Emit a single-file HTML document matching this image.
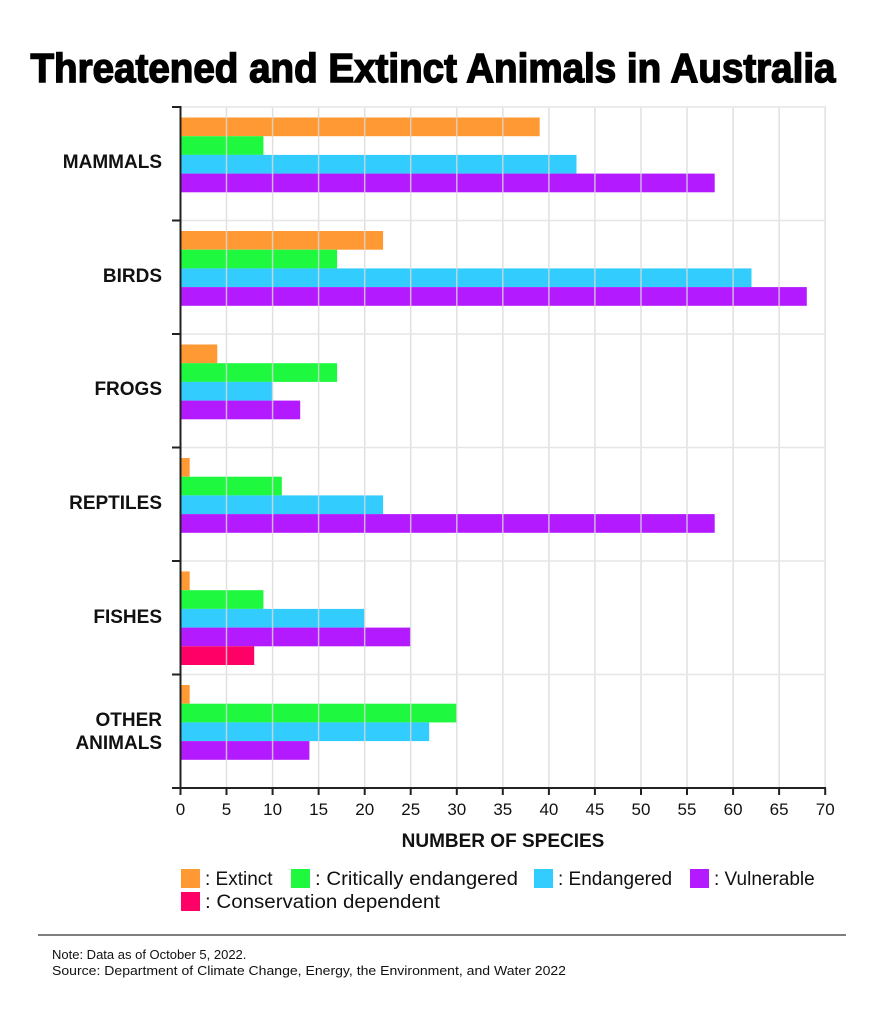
<!DOCTYPE html>
<html><head><meta charset="utf-8"><style>
html,body{margin:0;padding:0;background:#fff;}
svg{display:block;font-family:"Liberation Sans",sans-serif;}
</style></head><body>
<svg width="883" height="1024" viewBox="0 0 883 1024" xmlns="http://www.w3.org/2000/svg">
<text x="433" y="82" text-anchor="middle" font-size="41" font-weight="bold" textLength="805" lengthAdjust="spacingAndGlyphs" fill="#000" stroke="#000" stroke-width="1.5">Threatened and Extinct Animals in Australia</text>
<g id="bars">
<rect x="180.5" y="117.5" width="359.2" height="18.7" fill="#FF9933"/>
<rect x="180.5" y="136.2" width="82.9" height="18.7" fill="#1EF83E"/>
<rect x="180.5" y="154.9" width="396" height="18.7" fill="#33CCFF"/>
<rect x="180.5" y="173.6" width="534.2" height="18.7" fill="#B31AFF"/>
<rect x="180.5" y="231" width="202.6" height="18.7" fill="#FF9933"/>
<rect x="180.5" y="249.7" width="156.6" height="18.7" fill="#1EF83E"/>
<rect x="180.5" y="268.4" width="571" height="18.7" fill="#33CCFF"/>
<rect x="180.5" y="287.1" width="626.3" height="18.7" fill="#B31AFF"/>
<rect x="180.5" y="344.5" width="36.8" height="18.7" fill="#FF9933"/>
<rect x="180.5" y="363.2" width="156.6" height="18.7" fill="#1EF83E"/>
<rect x="180.5" y="381.9" width="92.1" height="18.7" fill="#33CCFF"/>
<rect x="180.5" y="400.6" width="119.7" height="18.7" fill="#B31AFF"/>
<rect x="180.5" y="458" width="9.2" height="18.7" fill="#FF9933"/>
<rect x="180.5" y="476.7" width="101.3" height="18.7" fill="#1EF83E"/>
<rect x="180.5" y="495.4" width="202.6" height="18.7" fill="#33CCFF"/>
<rect x="180.5" y="514.1" width="534.2" height="18.7" fill="#B31AFF"/>
<rect x="180.5" y="571.5" width="9.2" height="18.7" fill="#FF9933"/>
<rect x="180.5" y="590.2" width="82.9" height="18.7" fill="#1EF83E"/>
<rect x="180.5" y="608.9" width="184.2" height="18.7" fill="#33CCFF"/>
<rect x="180.5" y="627.6" width="230.3" height="18.7" fill="#B31AFF"/>
<rect x="180.5" y="646.3" width="73.7" height="18.7" fill="#FF0066"/>
<rect x="180.5" y="685" width="9.2" height="18.7" fill="#FF9933"/>
<rect x="180.5" y="703.7" width="276.3" height="18.7" fill="#1EF83E"/>
<rect x="180.5" y="722.4" width="248.7" height="18.7" fill="#33CCFF"/>
<rect x="180.5" y="741.1" width="128.9" height="18.7" fill="#B31AFF"/>
</g>
<g stroke="#d9d9d9" stroke-width="1.5" opacity="0.8">
<line x1="226.5" y1="107" x2="226.5" y2="788"/><line x1="272.6" y1="107" x2="272.6" y2="788"/>
<line x1="318.6" y1="107" x2="318.6" y2="788"/><line x1="364.7" y1="107" x2="364.7" y2="788"/>
<line x1="410.7" y1="107" x2="410.7" y2="788"/><line x1="456.8" y1="107" x2="456.8" y2="788"/>
<line x1="502.8" y1="107" x2="502.8" y2="788"/><line x1="548.9" y1="107" x2="548.9" y2="788"/>
<line x1="594.9" y1="107" x2="594.9" y2="788"/><line x1="641" y1="107" x2="641" y2="788"/>
<line x1="687" y1="107" x2="687" y2="788"/><line x1="733.1" y1="107" x2="733.1" y2="788"/>
<line x1="779.1" y1="107" x2="779.1" y2="788"/><line x1="825.2" y1="107" x2="825.2" y2="788"/>
</g>
<g stroke="#e6e6e6" stroke-width="1.5">
<line x1="181" y1="107" x2="826" y2="107"/><line x1="181" y1="220.5" x2="826" y2="220.5"/>
<line x1="181" y1="334" x2="826" y2="334"/><line x1="181" y1="447.5" x2="826" y2="447.5"/>
<line x1="181" y1="561" x2="826" y2="561"/><line x1="181" y1="674.5" x2="826" y2="674.5"/>
</g>
<g stroke="#222" stroke-width="2">
<line x1="180.5" y1="106" x2="180.5" y2="789"/>
<line x1="172" y1="788" x2="826" y2="788"/>
<line x1="172" y1="107" x2="180" y2="107"/><line x1="172" y1="220.5" x2="180" y2="220.5"/>
<line x1="172" y1="334" x2="180" y2="334"/><line x1="172" y1="447.5" x2="180" y2="447.5"/>
<line x1="172" y1="561" x2="180" y2="561"/><line x1="172" y1="674.5" x2="180" y2="674.5"/>
<line x1="180.5" y1="788" x2="180.5" y2="795"/><line x1="226.5" y1="788" x2="226.5" y2="795"/>
<line x1="272.6" y1="788" x2="272.6" y2="795"/><line x1="318.6" y1="788" x2="318.6" y2="795"/>
<line x1="364.7" y1="788" x2="364.7" y2="795"/><line x1="410.7" y1="788" x2="410.7" y2="795"/>
<line x1="456.8" y1="788" x2="456.8" y2="795"/><line x1="502.8" y1="788" x2="502.8" y2="795"/>
<line x1="548.9" y1="788" x2="548.9" y2="795"/><line x1="594.9" y1="788" x2="594.9" y2="795"/>
<line x1="641" y1="788" x2="641" y2="795"/><line x1="687" y1="788" x2="687" y2="795"/>
<line x1="733.1" y1="788" x2="733.1" y2="795"/><line x1="779.1" y1="788" x2="779.1" y2="795"/>
<line x1="825.2" y1="788" x2="825.2" y2="795"/>
</g>
<g font-size="17" fill="#111" text-anchor="middle">
<text x="180.5" y="815">0</text><text x="226.5" y="815">5</text><text x="272.6" y="815">10</text>
<text x="318.6" y="815">15</text><text x="364.7" y="815">20</text><text x="410.7" y="815">25</text>
<text x="456.8" y="815">30</text><text x="502.8" y="815">35</text><text x="548.9" y="815">40</text>
<text x="594.9" y="815">45</text><text x="641" y="815">50</text><text x="687" y="815">55</text>
<text x="733.1" y="815">60</text><text x="779.1" y="815">65</text><text x="825.2" y="815">70</text>
</g>
<text x="503" y="847" text-anchor="middle" font-size="19" font-weight="bold" fill="#111">NUMBER OF SPECIES</text>
<g font-size="19" font-weight="bold" fill="#111" text-anchor="end">
<text x="162" y="168">MAMMALS</text>
<text x="162" y="282">BIRDS</text>
<text x="162" y="395">FROGS</text>
<text x="162" y="509">REPTILES</text>
<text x="162" y="623">FISHES</text>
<text x="162" y="726">OTHER</text>
<text x="162" y="749">ANIMALS</text>
</g>
<g font-size="19" fill="#111">
<rect x="181" y="869" width="19" height="19" fill="#FF9933"/><text x="205" y="885">: Extinct</text>
<rect x="291" y="869" width="19" height="19" fill="#1EF83E"/><text x="315" y="885" textLength="203" lengthAdjust="spacingAndGlyphs">: Critically endangered</text>
<rect x="534" y="869" width="19" height="19" fill="#33CCFF"/><text x="558" y="885">: Endangered</text>
<rect x="690" y="869" width="19" height="19" fill="#B31AFF"/><text x="714" y="885">: Vulnerable</text>
<rect x="181" y="892" width="19" height="19" fill="#FF0066"/><text x="205" y="908" textLength="235" lengthAdjust="spacingAndGlyphs">: Conservation dependent</text>
</g>
<line x1="38" y1="935" x2="846" y2="935" stroke="#555" stroke-width="1.5"/>
<text x="52" y="959" font-size="13" fill="#111">Note: Data as of October 5, 2022.</text>
<text x="52" y="975" font-size="13" fill="#111" textLength="514" lengthAdjust="spacingAndGlyphs">Source: Department of Climate Change, Energy, the Environment, and Water 2022</text>
</svg>
</body></html>
